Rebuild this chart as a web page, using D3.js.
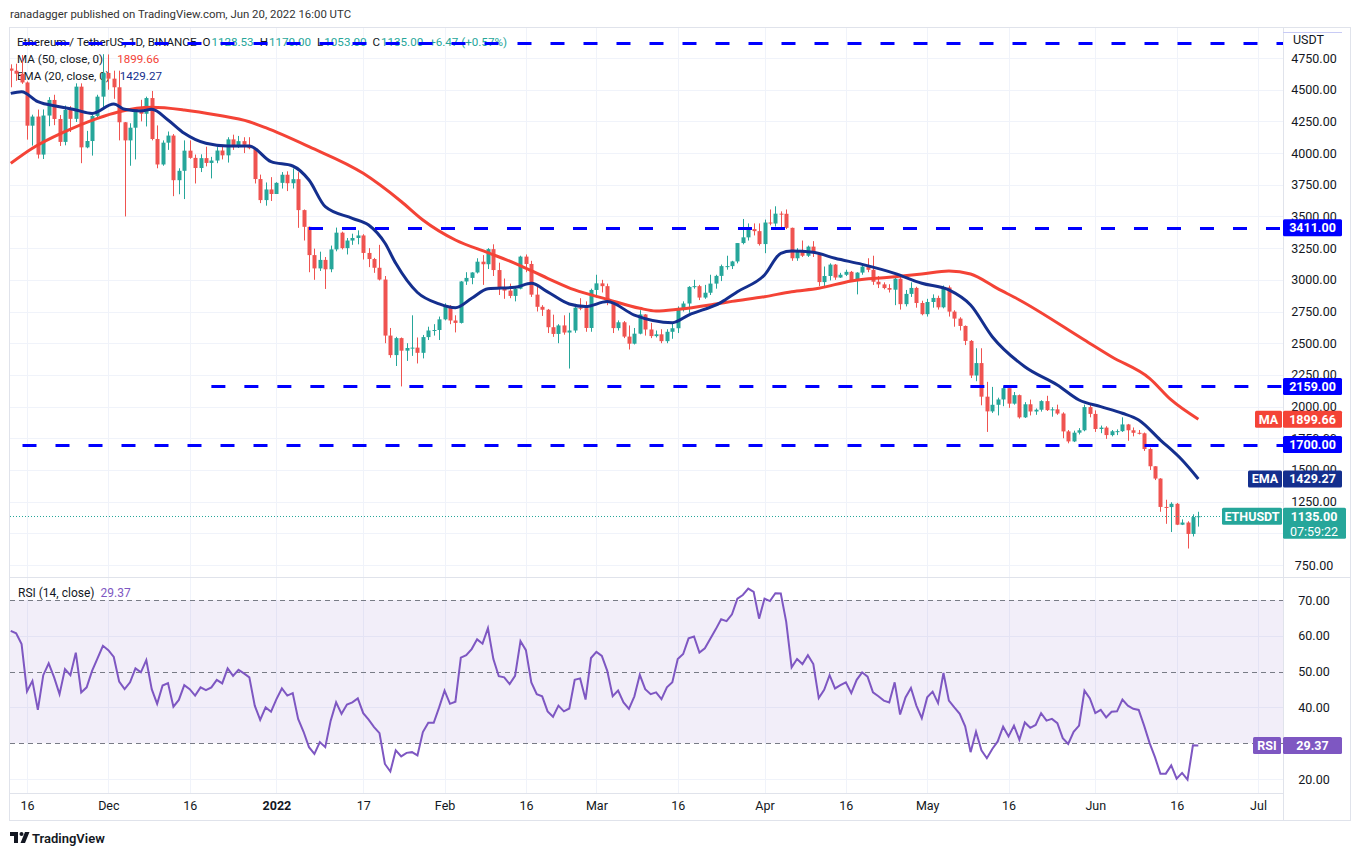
<!DOCTYPE html>
<html>
<head>
<meta charset="utf-8">
<script src="https://cdn.jsdelivr.net/npm/d3@7"></script>
<style>
  body { margin: 0; background: #fff; }
  svg { display: block; font-family: Roboto, "Liberation Sans", Arial, sans-serif; }
</style>
</head>
<body>
<svg id="chart" width="1361" height="856"></svg>
<script>
// ETH / USDT daily candles, Nov 13 2021 .. Jun 20 2022
const firstDay = Date.UTC(2021, 10, 13);

const opens = [
  4667,4650,4626,4557,4216,4288,3988,4296,4419,4269,4088,4340,4270,4524,4045,4095,4293,4445,
  4632,4587,4519,4243,4100,4200,4347,4310,4434,4111,3910,4082,4138,3786,3860,4019,3962,3882,3960,3922,3941,4020,3982,4108,4047,4094,4065,4038,3795,3629,3713,
  3677,3765,3829,3762,3794,3550,3418,3195,3090,3157,3083,3240,3372,3250,3310,3330,3350,3212,3164,3095,3002,2560,2406,2540,2441,2462,2465,2424,2548,2600,2604,
  2688,2792,2679,2660,2987,3015,3058,3143,3123,3242,3077,2928,2915,2873,2930,3183,3125,2883,2787,2764,2626,2573,2640,2584,2600,2780,2777,2620,
  2920,2972,2950,2834,2619,2665,2552,2496,2575,2727,2608,2556,2570,2516,2590,2618,2773,2813,2944,2950,2860,2898,2970,3031,3108,3108,3145,3290,3335,3400,3384,
  3282,3452,3444,3522,3521,3410,3170,3235,3190,3262,3209,2982,3030,3120,3018,3040,3063,2995,3057,3104,3079,2985,2964,2935,2922,3009,2808,2889,2936,2817,
  2729,2825,2857,2783,2940,2749,2694,2636,2518,2245,2343,2078,1962,2014,2056,2145,2023,2090,1915,2018,1961,1975,2043,1972,1978,1945,1804,1725,1794,1813,1996,
  1942,1823,1834,1775,1805,1806,1859,1813,1793,1789,1665,1529,1432,1208,1207,1233,1068,1085,995,1128.53
];
const highs = [
  4700,4705,4773,4565,4303,4343,4344,4441,4460,4300,4375,4370,4550,4550,4175,4300,4460,4780,
  4778,4650,4650,4245,4235,4350,4420,4445,4490,4218,4100,4170,4150,3880,4100,4100,3988,3990,4050,3970,4047,4060,4125,4145,4135,4125,4125,4040,3830,3768,3810,
  3770,3850,3856,3878,3849,3555,3420,3246,3222,3180,3270,3412,3380,3330,3364,3390,3360,3250,3173,3276,3030,2620,2550,2545,2500,2720,2545,2565,2630,2650,2710,
  2815,2800,2720,2990,3060,3060,3170,3195,3250,3280,3135,3010,2970,2950,3190,3200,3150,2945,2800,2770,2725,2650,2720,2740,2810,2855,2830,2930,
  3040,3000,2970,2840,2680,2675,2640,2620,2760,2730,2660,2600,2610,2610,2660,2790,2830,2950,3000,2960,2960,3040,3040,3120,3190,3150,3290,3480,3445,3445,3445,
  3475,3555,3580,3540,3555,3412,3250,3310,3270,3305,3215,3105,3130,3125,3055,3080,3070,3060,3125,3170,3190,3030,2980,2965,3025,3040,2920,2980,2945,2835,
  2850,2885,2875,2955,2955,2760,2705,2640,2525,2460,2460,2195,2155,2070,2160,2146,2115,2095,2035,2055,1985,2050,2085,1995,2015,1955,1815,1810,1830,2015,2015,
  1970,1850,1845,1815,1820,1915,1863,1835,1815,1795,1676,1530,1435,1265,1245,1240,1110,1095,1150,1170
];
const lows = [
  4519,4570,4546,4106,4059,3957,3953,4212,4220,4056,4061,4166,4245,3920,4038,3980,4282,4350,
  4500,4428,4100,3500,3900,3950,4250,4210,4100,3880,3900,4025,3660,3675,3637,3955,3760,3850,3895,3800,3920,3950,3925,4025,4040,4000,4030,3760,3605,3585,3622,
  3680,3720,3700,3720,3410,3310,3060,3000,3070,2928,3060,3225,3240,3200,3276,3280,3160,3100,3055,2995,2500,2385,2320,2159,2360,2400,2340,2380,2525,2560,2525,
  2680,2650,2585,2655,2960,2965,3050,2960,3085,3030,2880,2850,2855,2830,2925,3060,2865,2750,2715,2580,2550,2500,2567,2300,2582,2760,2590,2590,
  2860,2900,2800,2580,2600,2540,2450,2490,2570,2560,2540,2545,2500,2500,2535,2580,2750,2740,2930,2840,2850,2880,2930,2990,3080,3085,3130,3280,3310,3350,3270,
  3210,3430,3420,3405,3400,3150,3150,3180,3180,3180,2950,2950,2995,3000,3015,3030,2985,2885,3040,3060,2960,2935,2925,2900,2800,2765,2790,2865,2780,2720,
  2710,2780,2765,2775,2710,2630,2600,2485,2225,2200,2010,1800,1950,1930,2003,1990,2015,1905,1910,1930,1935,1960,1965,1920,1935,1750,1710,1720,1780,1805,1915,
  1800,1790,1745,1765,1775,1800,1730,1765,1780,1650,1500,1420,1170,1075,1010,1065,1065,880,975,1053
];
const closes = [
  4650,4626,4557,4216,4288,3988,4296,4419,4269,4088,4340,4270,4524,4045,4095,4293,4445,4632,
  4587,4519,4243,4100,4200,4347,4310,4434,4111,3910,4082,4138,3786,3860,4019,3962,3882,3960,3922,3941,4020,3982,4108,4047,4094,4065,4038,3795,3629,3713,3677,
  3765,3829,3762,3794,3550,3418,3195,3090,3157,3083,3240,3372,3250,3310,3330,3350,3212,3164,3095,3002,2560,2406,2540,2441,2462,2465,2424,2548,2600,2604,2688,
  2792,2679,2660,2987,3015,3058,3143,3123,3242,3077,2928,2915,2873,2930,3183,3125,2883,2787,2764,2626,2573,2640,2584,2600,2780,2777,2620,2920,
  2972,2950,2834,2619,2665,2552,2496,2575,2727,2608,2556,2570,2516,2590,2618,2773,2813,2944,2950,2860,2898,2970,3031,3108,3108,3145,3290,3335,3400,3384,3282,
  3452,3444,3522,3521,3410,3170,3235,3190,3262,3209,2982,3030,3120,3018,3040,3063,2995,3057,3104,3079,2985,2964,2935,2922,3009,2808,2889,2936,2817,2729,
  2825,2857,2783,2940,2749,2694,2636,2518,2245,2343,2078,1962,2014,2056,2145,2023,2090,1915,2018,1961,1975,2043,1972,1978,1945,1804,1725,1794,1813,1996,1942,
  1823,1834,1775,1805,1806,1859,1813,1793,1789,1665,1529,1432,1208,1207,1233,1068,1085,995,1128,1135
];

// MA 50 and EMA 20 (candle index, price)
const maIdx = [0,4,10,16,20,26,32,38,44,47,55,65,72,76,82,88,93,99,104,110,116,119,123,130,133,139,144,149,155,162,168,173,177,182,186,198,203,210,214,219];
const maVal = [3919,4038,4169,4274,4326,4361,4340,4300,4247,4200,4050,3840,3618,3472,3314,3214,3130,3012,2920,2846,2775,2754,2767,2809,2830,2867,2906,2933,2991,3020,3046,3070,3046,2930,2841,2525,2393,2223,2052,1900];
const emaIdx = [0,2,5,9,12,15,19,21,24,26,29,32,36,40,44,48,52,55,58,63,66,69,71,75,79,82,85,88,93,96,99,103,106,110,115,122,125,131,134,139,142,144,148,152,157,163,168,173,177,181,187,193,197,201,205,208,212,216,219];
const emaVal = [4471,4484,4405,4366,4340,4313,4387,4345,4332,4345,4261,4156,4077,4056,4056,3932,3898,3787,3577,3485,3432,3290,3130,2900,2810,2780,2854,2930,2941,2973,2905,2809,2789,2828,2722,2662,2722,2822,2906,3038,3209,3227,3217,3170,3122,3051,2973,2920,2801,2551,2314,2170,2052,1999,1947,1894,1736,1578,1429];

// RSI 14, one value per candle
const rsi = [
  61.4,60.7,57.7,44.5,47.4,39.3,49.0,52.3,48.4,43.7,50.7,49.0,55.3,44.2,45.6,50.2,53.7,57.2,56.0,54.1,
  47.2,45.1,47.0,50.9,49.8,53.2,45.1,41.0,46.1,46.8,40.2,42.1,46.2,45.1,43.3,45.6,44.8,45.6,47.7,46.7,
  50.9,48.8,50.5,49.5,48.4,40.5,36.5,40.0,38.8,42.3,45.3,43.3,44.0,36.8,33.2,28.9,27.0,30.3,28.9,36.3,
  41.4,38.2,40.8,41.4,42.5,38.4,36.6,34.5,32.8,24.2,22.1,28.0,26.3,27.3,27.5,26.6,33.1,35.7,35.7,40.0,
  44.7,41.0,41.6,53.9,54.6,56.3,59.0,57.8,62.1,53.5,48.7,48.4,46.5,48.8,58.5,56.0,47.0,43.7,43.1,38.9,
  37.4,40.5,38.9,39.7,47.7,48.1,42.2,53.8,55.5,54.4,50.2,43.1,44.7,41.4,39.6,43.1,49.1,45.1,43.7,44.2,
  42.3,45.6,47.0,53.5,54.9,59.3,59.8,55.3,56.5,59.2,61.8,64.6,64.1,66.0,70.4,71.4,73.2,72.3,64.8,70.4,
  69.7,71.9,71.8,63.9,51.2,53.5,52.1,54.6,52.1,42.6,44.9,49.0,45.3,46.2,47.0,44.0,47.7,49.8,48.6,44.2,
  43.1,41.9,41.4,47.0,38.0,42.8,45.4,40.5,37.0,42.8,44.4,41.2,49.6,41.9,40.0,38.2,34.7,27.5,33.2,28.0,
  25.8,28.4,30.5,34.6,31.9,34.9,31.0,35.8,34.3,35.1,38.4,36.3,36.8,35.6,31.4,29.8,33.2,34.9,44.7,42.5,
  38.4,39.3,37.2,38.8,38.9,42.2,40.5,39.6,39.3,34.9,30.1,26.1,21.5,21.5,23.8,20.1,21.7,19.8,29.4,29.37
];

// horizontal levels drawn on the chart, with the candle they start from
const levelVal = [4868, 3411, 2159, 1700];
const levelFrom = [-10, 55, 37, -10];
const levelTagged = [false, true, true, true];

const priceTicks = [750,1000,1250,1500,1750,2000,2250,2500,2750,3000,3250,3500,3750,4000,4250,4500,4750];
const rsiTicks = [20, 30, 40, 50, 60, 70];
const tickDates = ['2021-11-16','2021-12-01','2021-12-16','2022-01-01','2022-01-17','2022-02-01','2022-02-16','2022-03-01',
                   '2022-03-16','2022-04-01','2022-04-16','2022-05-01','2022-05-16','2022-06-01','2022-06-16','2022-07-01'];
const tickLabels = ['16','Dec','16','2022','17','Feb','16','Mar','16','Apr','16','May','16','Jun','16','Jul'];

const UP = '#26a69a', DOWN = '#ef5350', MA_COL = '#f44336', EMA_COL = '#142f8e', LVL = '#0000ff', RSI_COL = '#7e57c2';
const TXT = '#131722', GRID = '#f0f3fa', BORDER = '#e0e3eb';

const svg = d3.select('#chart');
const L = 10, R = 1283;
const pTop = 28, pBot = 577, rTop = 578, rBot = 793;

const day = i => new Date(firstDay + i * 864e5);
const x = d3.scaleUtc()
  .domain([new Date('2021-11-16T00:00:00Z'), new Date('2022-07-01T00:00:00Z')])
  .range([27, 1258]);
const y = d3.scaleLinear().domain([750, 4750]).range([565, 58]);
const yR = d3.scaleLinear().domain([20, 70]).range([779, 600]);
const xi = i => x(day(i));

const defs = svg.append('defs');
defs.append('clipPath').attr('id', 'clipP').append('rect').attr('x', L).attr('y', pTop).attr('width', R - L).attr('height', pBot - pTop);
defs.append('clipPath').attr('id', 'clipR').append('rect').attr('x', L).attr('y', rTop).attr('width', R - L).attr('height', rBot - rTop);

// header
svg.append('text').attr('x', 10).attr('y', 18).attr('font-size', 11.4).attr('fill', '#333')
  .text('ranadagger published on TradingView.com, Jun 20, 2022 16:00 UTC');

// frame
svg.append('rect').attr('x', 9.5).attr('y', 27.5).attr('width', 1341).attr('height', 793)
  .attr('fill', 'none').attr('stroke', BORDER);

// grid
const tDates = tickDates.map(d => new Date(d + 'T00:00:00Z'));
const grid = svg.append('g').attr('stroke', GRID);
grid.selectAll('.vp').data(tDates).join('line')
  .attr('x1', d => Math.round(x(d)) + 0.5).attr('x2', d => Math.round(x(d)) + 0.5)
  .attr('y1', pTop).attr('y2', pBot);
grid.selectAll('.vr').data(tDates).join('line')
  .attr('x1', d => Math.round(x(d)) + 0.5).attr('x2', d => Math.round(x(d)) + 0.5)
  .attr('y1', rTop).attr('y2', rBot);
grid.selectAll('.hp').data(priceTicks).join('line')
  .attr('x1', L).attr('x2', R)
  .attr('y1', d => Math.round(y(d)) + 0.5).attr('y2', d => Math.round(y(d)) + 0.5);
grid.selectAll('.hr').data([20, 40, 60]).join('line')
  .attr('x1', L).attr('x2', R)
  .attr('y1', d => Math.round(yR(d)) + 0.5).attr('y2', d => Math.round(yR(d)) + 0.5);

// legend text (behind the top level line)
const leg = svg.append('g').attr('font-size', 11.6).attr('fill', TXT);
const l1 = leg.append('text').attr('x', 17).attr('y', 46);
l1.append('tspan').text('Ethereum / TetherUS, 1D, BINANCE');
[['O', '1128.53'], ['H', '1170.00'], ['L', '1053.00'], ['C', '1135.00']].forEach(([k, v]) => {
  l1.append('tspan').attr('dx', 6).text(k);
  l1.append('tspan').attr('dx', 1).attr('fill', UP).text(v);
});
l1.append('tspan').attr('dx', 6).attr('fill', UP).text('+6.47 (+0.57%)');
const l2 = leg.append('text').attr('x', 17).attr('y', 63);
l2.append('tspan').text('MA (50, close, 0)');
l2.append('tspan').attr('dx', 14).attr('fill', MA_COL).text('1899.66');
const l3 = leg.append('text').attr('x', 17).attr('y', 80);
l3.append('tspan').text('EMA (20, close, 0)');
l3.append('tspan').attr('dx', 10).attr('fill', EMA_COL).text('1429.27');

// candles
const cg = svg.append('g').attr('clip-path', 'url(#clipP)');
const idx = d3.range(closes.length);
const col = i => closes[i] >= opens[i] ? UP : DOWN;
cg.selectAll('.wick').data(idx).join('line')
  .attr('x1', i => Math.round(xi(i)) + 0.5).attr('x2', i => Math.round(xi(i)) + 0.5)
  .attr('y1', i => y(highs[i])).attr('y2', i => y(lows[i]))
  .attr('stroke', col).attr('stroke-width', 1);
cg.selectAll('.body').data(idx).join('rect')
  .attr('x', i => Math.round(xi(i)) - 1.5).attr('width', 4)
  .attr('y', i => y(Math.max(opens[i], closes[i])))
  .attr('height', i => Math.max(1, Math.abs(y(opens[i]) - y(closes[i]))))
  .attr('fill', col);

// moving averages
const line = d3.line().curve(d3.curveMonotoneX);
cg.append('path').attr('d', line(maIdx.map((d, k) => [xi(d), y(maVal[k])])))
  .attr('fill', 'none').attr('stroke', MA_COL).attr('stroke-width', 3);
cg.append('path').attr('d', line(emaIdx.map((d, k) => [xi(d), y(emaVal[k])])))
  .attr('fill', 'none').attr('stroke', EMA_COL).attr('stroke-width', 3);

// horizontal levels
levelVal.forEach((v, k) => {
  cg.append('line').attr('x1', xi(levelFrom[k])).attr('x2', R)
    .attr('y1', Math.round(y(v)) + 0.5).attr('y2', Math.round(y(v)) + 0.5)
    .attr('stroke', LVL).attr('stroke-width', 3).attr('stroke-dasharray', '14,19');
});

// last price dotted line
cg.append('line').attr('x1', L).attr('x2', 1222)
  .attr('y1', Math.round(y(1135)) + 0.5).attr('y2', Math.round(y(1135)) + 0.5)
  .attr('stroke', UP).attr('stroke-width', 1).attr('stroke-dasharray', '1,2');

// RSI pane
const rg = svg.append('g').attr('clip-path', 'url(#clipR)');
rg.append('rect').attr('x', L).attr('width', R - L).attr('y', yR(70)).attr('height', yR(30) - yR(70))
  .attr('fill', RSI_COL).attr('fill-opacity', 0.1);
rg.selectAll('.band').data([70, 50, 30]).join('line')
  .attr('x1', L).attr('x2', R)
  .attr('y1', d => Math.round(yR(d)) + 0.5).attr('y2', d => Math.round(yR(d)) + 0.5)
  .attr('stroke', '#787b86').attr('stroke-dasharray', '5,4');
rg.append('path').attr('d', d3.line()(rsi.map((v, i) => [xi(i), yR(v)])))
  .attr('fill', 'none').attr('stroke', RSI_COL).attr('stroke-width', 2);
const rl = svg.append('text').attr('x', 18).attr('y', 597).attr('font-size', 12).attr('fill', TXT);
rl.append('tspan').text('RSI (14, close)');
rl.append('tspan').attr('dx', 6).attr('fill', RSI_COL).text('29.37');

// separators
const sep = svg.append('g').attr('stroke', BORDER);
sep.append('line').attr('x1', 10).attr('x2', 1351).attr('y1', 577.5).attr('y2', 577.5);
sep.append('line').attr('x1', 10).attr('x2', 1283).attr('y1', 793.5).attr('y2', 793.5);
sep.append('line').attr('x1', 1283.5).attr('x2', 1283.5).attr('y1', 28).attr('y2', 821);

// axes
const pAxis = svg.append('g').attr('transform', `translate(${R},0)`)
  .call(d3.axisRight(y).tickValues(priceTicks).tickFormat(d3.format('.2f')).tickSize(0));
const rAxis = svg.append('g').attr('transform', `translate(${R},0)`)
  .call(d3.axisRight(yR).tickValues(rsiTicks).tickFormat(d3.format('.2f')).tickSize(0));
const tAxis = svg.append('g').attr('transform', `translate(0,${rBot})`)
  .call(d3.axisBottom(x).tickValues(tDates).tickFormat((d, i) => tickLabels[i]).tickSize(0));
[pAxis, rAxis, tAxis].forEach(a => {
  a.select('.domain').remove();
  a.selectAll('text').attr('fill', TXT).attr('font-size', 12.5)
    .attr('font-family', 'Roboto, "Liberation Sans", Arial, sans-serif');
});
[pAxis, rAxis].forEach(a => a.selectAll('text').attr('x', 31).attr('text-anchor', 'middle'));
tAxis.selectAll('text').attr('y', 8).attr('font-weight', (d, i) => tickLabels[i] === '2022' ? 'bold' : null);
svg.append('text').attr('x', 1293).attr('y', 44).attr('font-size', 12.5).attr('fill', TXT).text('USDT');
svg.append('line').attr('x1', 1283).attr('x2', 1342).attr('y1', 32.5).attr('y2', 32.5).attr('stroke', '#c8cbf5');

// axis tags
function tag(x0, w, yc, h, fill, label) {
  const g = svg.append('g');
  g.append('rect').attr('x', x0).attr('y', yc - h / 2).attr('width', w).attr('height', h).attr('rx', 1.5).attr('fill', fill);
  g.append('text').attr('x', x0 + w / 2).attr('y', yc).attr('dy', '0.35em').attr('text-anchor', 'middle')
    .attr('font-size', 12.5).attr('font-weight', 'bold').attr('fill', '#fff').text(label);
  return g;
}
levelVal.forEach((v, k) => { if (levelTagged[k]) tag(1283, 59, y(v), 17, LVL, d3.format('.2f')(v)); });
tag(1255, 27, y(1899.66), 17, MA_COL, 'MA');
tag(1283, 59, y(1899.66), 17, MA_COL, '1899.66');
tag(1248, 34, y(1429.27), 17, EMA_COL, 'EMA');
tag(1283, 59, y(1429.27), 17, EMA_COL, '1429.27');
tag(1222, 60, y(1135), 17, UP, 'ETHUSDT');
const lastTag = svg.append('g');
lastTag.append('rect').attr('x', 1283).attr('y', y(1135) - 8.5).attr('width', 63).attr('height', 31).attr('rx', 1.5).attr('fill', UP);
lastTag.append('text').attr('x', 1314).attr('y', y(1135)).attr('dy', '0.35em').attr('text-anchor', 'middle')
  .attr('font-size', 12.5).attr('font-weight', 'bold').attr('fill', '#fff').text('1135.00');
lastTag.append('text').attr('x', 1314).attr('y', y(1135) + 15).attr('dy', '0.35em').attr('text-anchor', 'middle')
  .attr('font-size', 12.5).attr('fill', '#fff').text('07:59:22');
tag(1253, 28, yR(29.37), 17, RSI_COL, 'RSI');
tag(1283, 59, yR(29.37), 17, RSI_COL, '29.37');

// logo
const logo = svg.append('g').attr('fill', TXT);
logo.append('path').attr('d', 'M10 832 h8 v11 h-4 v-7 h-4 z');
logo.append('circle').attr('cx', 21.5).attr('cy', 834).attr('r', 2);
logo.append('path').attr('d', 'M25 832 h4.5 l-4.5 11 h-4.5 z');
logo.append('text').attr('x', 32).attr('y', 843).attr('font-size', 13).attr('font-weight', 600).text('TradingView');
</script>
</body>
</html>
